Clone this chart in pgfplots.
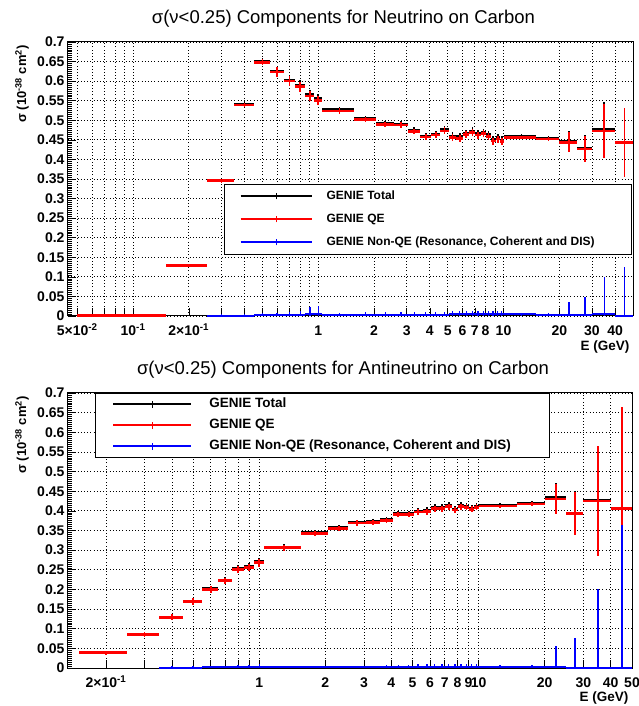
\documentclass[border=0pt]{standalone}
\usepackage{pgfplots}
\pgfplotsset{compat=1.18}
\usepackage{pgfplotstable}
\usepackage{fontspec}
\setmainfont{Liberation Sans}

% neutrino: total
\pgfplotstableread{
x y xm xp ey
0.10 0.001 0.05 0.05 0.001
0.20 0.130 0.05 0.05 0.004
0.30 0.3467 0.05 0.05 0.005
0.40 0.540 0.05 0.05 0.006
0.50 0.650 0.05 0.05 0.008
0.60 0.625 0.05 0.05 0.012
0.70 0.603 0.05 0.05 0.012
0.80 0.590 0.05 0.05 0.013
0.90 0.566 0.05 0.05 0.012
1.00 0.555 0.05 0.05 0.012
1.30 0.527 0.25 0.25 0.008
1.80 0.505 0.25 0.25 0.007
2.30 0.492 0.25 0.25 0.007
2.80 0.491 0.25 0.25 0.008
3.30 0.475 0.25 0.25 0.007
3.80 0.460 0.25 0.25 0.007
4.30 0.465 0.25 0.25 0.008
4.80 0.476 0.25 0.25 0.009
5.30 0.460 0.25 0.25 0.009
5.80 0.458 0.25 0.25 0.009
6.30 0.467 0.25 0.25 0.009
6.80 0.473 0.25 0.25 0.009
7.30 0.466 0.25 0.25 0.009
7.80 0.470 0.25 0.25 0.009
8.30 0.463 0.25 0.25 0.009
8.80 0.451 0.25 0.25 0.009
9.30 0.456 0.25 0.25 0.009
9.775 0.450 0.225 0.225 0.009
12.5 0.460 2.5 2.5 0.005
17.5 0.455 2.5 2.5 0.005
22.5 0.447 2.5 2.5 0.025
27.5 0.429 2.5 2.5 0.034
35 0.478 5 5 0.068
45 0.444 5 5 0.088
}\nuTot
% neutrino: QE
\pgfplotstableread{
x y xm xp ey
0.10 0.001 0.05 0.05 0.001
0.20 0.1295 0.05 0.05 0.004
0.30 0.3457 0.05 0.05 0.005
0.40 0.539 0.05 0.05 0.006
0.50 0.648 0.05 0.05 0.008
0.60 0.623 0.05 0.05 0.012
0.70 0.600 0.05 0.05 0.012
0.80 0.586 0.05 0.05 0.013
0.90 0.562 0.05 0.05 0.012
1.00 0.551 0.05 0.05 0.012
1.30 0.524 0.25 0.25 0.008
1.80 0.502 0.25 0.25 0.007
2.30 0.489 0.25 0.25 0.007
2.80 0.488 0.25 0.25 0.008
3.30 0.472 0.25 0.25 0.007
3.80 0.457 0.25 0.25 0.007
4.30 0.462 0.25 0.25 0.008
4.80 0.473 0.25 0.25 0.009
5.30 0.456 0.25 0.25 0.009
5.80 0.454 0.25 0.25 0.009
6.30 0.463 0.25 0.25 0.009
6.80 0.469 0.25 0.25 0.009
7.30 0.462 0.25 0.25 0.009
7.80 0.466 0.25 0.25 0.009
8.30 0.459 0.25 0.25 0.009
8.80 0.447 0.25 0.25 0.009
9.30 0.452 0.25 0.25 0.009
9.775 0.446 0.225 0.225 0.009
12.5 0.456 2.5 2.5 0.005
17.5 0.452 2.5 2.5 0.005
22.5 0.444 2.5 2.5 0.025
27.5 0.427 2.5 2.5 0.0335
35 0.4727 5 5 0.068
45 0.443 5 5 0.088
}\nuQE
% neutrino: non-QE
\pgfplotstableread{
x y xm xp eyp eym
0.30 0.001 0.05 0.05 0.003 0.001
0.40 0.001 0.05 0.05 0.004 0.001
0.50 0.002 0.05 0.05 0.005 0.002
0.60 0.002 0.05 0.05 0.006 0.002
0.70 0.003 0.05 0.05 0.008 0.003
0.80 0.003 0.05 0.05 0.010 0.003
0.90 0.004 0.05 0.05 0.018 0.004
1.00 0.004 0.05 0.05 0.022 0.004
1.30 0.003 0.25 0.25 0.005 0.003
1.80 0.003 0.25 0.25 0.006 0.003
2.30 0.003 0.25 0.25 0.006 0.003
2.80 0.003 0.25 0.25 0.007 0.003
3.30 0.003 0.25 0.25 0.007 0.003
3.80 0.003 0.25 0.25 0.008 0.003
4.30 0.003 0.25 0.25 0.008 0.003
4.80 0.003 0.25 0.25 0.008 0.003
5.30 0.004 0.25 0.25 0.010 0.004
5.80 0.004 0.25 0.25 0.010 0.004
6.30 0.004 0.25 0.25 0.010 0.004
6.80 0.004 0.25 0.25 0.010 0.004
7.30 0.004 0.25 0.25 0.010 0.004
7.80 0.004 0.25 0.25 0.010 0.004
8.30 0.004 0.25 0.25 0.010 0.004
8.80 0.004 0.25 0.25 0.010 0.004
9.30 0.004 0.25 0.25 0.010 0.004
9.775 0.004 0.225 0.225 0.010 0.004
12.5 0.004 2.5 2.5 0.004 0.004
17.5 0.003 2.5 2.5 0.005 0.003
22.5 0.003 2.5 2.5 0.033 0.003
27.5 0.002 2.5 2.5 0.047 0.002
35 0.006 5 5 0.093 0.006
45 0.001 5 5 0.123 0.001
}\nuNon
% antineutrino: total
\pgfplotstableread{
x y xm xp ey
0.20 0.039 0.05 0.05 0.005
0.30 0.0857 0.05 0.05 0.006
0.40 0.130 0.05 0.05 0.008
0.50 0.170 0.05 0.05 0.008
0.60 0.202 0.05 0.05 0.008
0.70 0.224 0.05 0.05 0.008
0.80 0.253 0.05 0.05 0.009
0.90 0.258 0.05 0.05 0.009
1.00 0.271 0.05 0.05 0.010
1.30 0.308 0.25 0.25 0.007
1.80 0.345 0.25 0.25 0.007
2.30 0.357 0.25 0.25 0.007
2.80 0.371 0.25 0.25 0.007
3.30 0.373 0.25 0.25 0.007
3.80 0.378 0.25 0.25 0.007
4.30 0.393 0.25 0.25 0.007
4.80 0.393 0.25 0.25 0.007
5.30 0.400 0.25 0.25 0.008
5.80 0.401 0.25 0.25 0.008
6.30 0.4085 0.25 0.25 0.008
6.80 0.4085 0.25 0.25 0.008
7.30 0.4136 0.25 0.25 0.008
7.80 0.405 0.25 0.25 0.008
8.30 0.4136 0.25 0.25 0.008
8.80 0.412 0.25 0.25 0.008
9.30 0.407 0.25 0.25 0.008
9.775 0.412 0.225 0.225 0.008
12.5 0.415 2.5 2.5 0.004
17.5 0.420 2.5 2.5 0.005
22.5 0.4335 2.5 2.5 0.038
27.5 0.395 2.5 2.5 0.055
35 0.426 5 5 0.14
45 0.407 5 5 0.258
}\anTot
% antineutrino: QE
\pgfplotstableread{
x y xm xp ey
0.20 0.039 0.05 0.05 0.005
0.30 0.0857 0.05 0.05 0.006
0.40 0.129 0.05 0.05 0.008
0.50 0.169 0.05 0.05 0.008
0.60 0.200 0.05 0.05 0.008
0.70 0.222 0.05 0.05 0.008
0.80 0.251 0.05 0.05 0.009
0.90 0.256 0.05 0.05 0.009
1.00 0.268 0.05 0.05 0.010
1.30 0.306 0.25 0.25 0.007
1.80 0.343 0.25 0.25 0.007
2.30 0.355 0.25 0.25 0.007
2.80 0.369 0.25 0.25 0.007
3.30 0.371 0.25 0.25 0.007
3.80 0.376 0.25 0.25 0.007
4.30 0.391 0.25 0.25 0.007
4.80 0.391 0.25 0.25 0.007
5.30 0.397 0.25 0.25 0.008
5.80 0.398 0.25 0.25 0.008
6.30 0.4055 0.25 0.25 0.008
6.80 0.4055 0.25 0.25 0.008
7.30 0.4106 0.25 0.25 0.008
7.80 0.402 0.25 0.25 0.008
8.30 0.4106 0.25 0.25 0.008
8.80 0.409 0.25 0.25 0.008
9.30 0.404 0.25 0.25 0.008
9.775 0.409 0.225 0.225 0.008
12.5 0.412 2.5 2.5 0.004
17.5 0.417 2.5 2.5 0.005
22.5 0.430 2.5 2.5 0.038
27.5 0.394 2.5 2.5 0.055
35 0.425 5 5 0.14
45 0.406 5 5 0.258
}\anQE
% antineutrino: non-QE
\pgfplotstableread{
x y xm xp eyp eym
0.40 0.001 0.05 0.05 0.003 0.001
0.50 0.001 0.05 0.05 0.003 0.001
0.60 0.002 0.05 0.05 0.004 0.002
0.70 0.002 0.05 0.05 0.004 0.002
0.80 0.002 0.05 0.05 0.005 0.002
0.90 0.002 0.05 0.05 0.005 0.002
1.00 0.003 0.05 0.05 0.006 0.003
1.30 0.002 0.25 0.25 0.003 0.002
1.80 0.002 0.25 0.25 0.004 0.002
2.30 0.002 0.25 0.25 0.004 0.002
2.80 0.002 0.25 0.25 0.004 0.002
3.30 0.002 0.25 0.25 0.004 0.002
3.80 0.002 0.25 0.25 0.005 0.002
4.30 0.002 0.25 0.25 0.005 0.002
4.80 0.002 0.25 0.25 0.005 0.002
5.30 0.003 0.25 0.25 0.006 0.003
5.80 0.003 0.25 0.25 0.006 0.003
6.30 0.003 0.25 0.25 0.006 0.003
6.80 0.003 0.25 0.25 0.006 0.003
7.30 0.003 0.25 0.25 0.006 0.003
7.80 0.003 0.25 0.25 0.006 0.003
8.30 0.003 0.25 0.25 0.006 0.003
8.80 0.003 0.25 0.25 0.006 0.003
9.30 0.003 0.25 0.25 0.006 0.003
9.775 0.003 0.225 0.225 0.006 0.003
12.5 0.003 2.5 2.5 0.004 0.003
17.5 0.003 2.5 2.5 0.004 0.003
22.5 0.003 2.5 2.5 0.053 0.003
27.5 0.001 2.5 2.5 0.075 0.001
35 0.001 5 5 0.199 0.001
45 0.001 5 5 0.363 0.001
}\anNon

\pgfplotsset{
  hbar/.style={draw=none, mark=none, error bars/x dir=both, error bars/x explicit, error bars/error mark=none, error bars/error bar style={draw=#1, line width=2.6pt}},
  vbar/.style={draw=none, mark=none, forget plot, error bars/y dir=both, error bars/y explicit, error bars/error mark=none, error bars/error bar style={draw=#1, line width=1.8pt}},
  hbarthin/.style={draw=none, mark=none, error bars/x dir=both, error bars/x explicit, error bars/error mark=none, error bars/error bar style={draw=#1, line width=2pt}},
  vbarthin/.style={draw=none, mark=none, forget plot, error bars/y dir=both, error bars/y explicit, error bars/error mark=none, error bars/error bar style={draw=#1, line width=1.5pt}},
}

\begin{document}
\begin{tikzpicture}
\useasboundingbox (0,0) rectangle (639pt,706pt);

% ---------------- top: neutrino ----------------
\begin{axis}[
  scale only axis, xmode=log, ymin=0, ymax=0.7,
  ytick={0,0.05,0.1,0.15,0.2,0.25,0.3,0.35,0.4,0.45,0.5,0.55,0.6,0.65,0.7},
  minor y tick num=9, minor xtick={},
  tick align=inside, tick pos=left,
  major tick length=8pt, minor tick length=4pt,
  tick style={black, line width=0.6pt},
  grid=major,
  major grid style={black, line width=0.8pt, dash pattern=on 0.8pt off 2.4pt},
  axis line style={line width=1pt},
  clip=false,
  /pgf/number format/assume math mode=true,
  ticklabel style={font=\bfseries\fontsize{14}{16}\selectfont},
  yticklabel style={/pgf/number format/fixed, /pgf/number format/precision=2},
  xticklabel style={anchor=base, yshift=-19.5pt},
  ylabel={σ (10\textsuperscript{-38} cm\textsuperscript{2})},
  ylabel style={font=\bfseries\fontsize{13}{15}\selectfont, at={(axis description cs:-0.0743,1)}, anchor=base east},
  xlabel={E (GeV)},
  legend cell align=left,
  at={(68pt,390pt)}, anchor=south west, width=565pt, height=274pt,
  xmin=0.04454, xmax=50,
  xtick={0.05,0.06,0.07,0.08,0.09,0.1,0.2,0.3,0.4,0.5,0.6,0.7,0.8,0.9,1,2,3,4,5,6,7,8,9,10,20,30,40},
  xticklabels={5×10\textsuperscript{-2},,,,,10\textsuperscript{-1},2×10\textsuperscript{-1},,,,,,,,1,2,3,4,5,6,7,8,,10,20,30,40},
  title={σ(ν<0.25) Components for Neutrino on Carbon},
  title style={font=\fontsize{18.5}{21}\selectfont, anchor=center, at={(axis description cs:0.4876,1.0646)}},
  xlabel style={font=\bfseries\fontsize{13.5}{15}\selectfont, at={(axis description cs:1,-0.1277)}, anchor=base east},
  legend style={at={(axis description cs:0.9982,0.4818)}, anchor=north east, draw=black, line width=0.8pt, fill=white,
    inner xsep=15pt, inner ysep=6pt, row sep=11pt, nodes={inner sep=0pt, text height=9pt, text depth=3pt},
    font=\bfseries\fontsize{12}{14}\selectfont},
]
\addplot[legend image code/.code={\draw[black,line width=2pt] (0pt,0pt) -- (71pt,0pt); \draw[black,line width=0.8pt] (35.5pt,-3pt) -- (35.5pt,3pt); \path (86pt,0pt);}, hbar=black]
  table[x=x, y=y, x error minus=xm, x error plus=xp] {\nuTot};
\addlegendentry{\makebox[290pt][l]{GENIE Total}}
\addplot[vbar=black] table[x=x, y=y, y error=ey] {\nuTot};
\addplot[legend image code/.code={\draw[red,line width=2pt] (0pt,0pt) -- (71pt,0pt); \draw[red,line width=0.8pt] (35.5pt,-3pt) -- (35.5pt,3pt); \path (86pt,0pt);}, hbar=red]
  table[x=x, y=y, x error minus=xm, x error plus=xp] {\nuQE};
\addlegendentry{\makebox[290pt][l]{GENIE QE}}
\addplot[vbar=red] table[x=x, y=y, y error=ey] {\nuQE};
\addplot[legend image code/.code={\draw[blue,line width=2pt] (0pt,0pt) -- (71pt,0pt); \draw[blue,line width=0.8pt] (35.5pt,-3pt) -- (35.5pt,3pt); \path (86pt,0pt);}, hbarthin=blue]
  table[x=x, y=y, x error minus=xm, x error plus=xp] {\nuNon};
\addlegendentry{\makebox[290pt][l]{GENIE Non-QE (Resonance, Coherent and DIS)}}
\addplot[vbarthin=blue] table[x=x, y=y, y error plus=eyp, y error minus=eym] {\nuNon};
\end{axis}

% ---------------- bottom: antineutrino ----------------
\begin{axis}[
  scale only axis, xmode=log, ymin=0, ymax=0.7,
  ytick={0,0.05,0.1,0.15,0.2,0.25,0.3,0.35,0.4,0.45,0.5,0.55,0.6,0.65,0.7},
  minor y tick num=9, minor xtick={},
  tick align=inside, tick pos=left,
  major tick length=8pt, minor tick length=4pt,
  tick style={black, line width=0.6pt},
  grid=major,
  major grid style={black, line width=0.8pt, dash pattern=on 0.8pt off 2.4pt},
  axis line style={line width=1pt},
  clip=false,
  /pgf/number format/assume math mode=true,
  ticklabel style={font=\bfseries\fontsize{14}{16}\selectfont},
  yticklabel style={/pgf/number format/fixed, /pgf/number format/precision=2},
  xticklabel style={anchor=base, yshift=-19.5pt},
  ylabel={σ (10\textsuperscript{-38} cm\textsuperscript{2})},
  ylabel style={font=\bfseries\fontsize{13}{15}\selectfont, at={(axis description cs:-0.0743,1)}, anchor=base east},
  xlabel={E (GeV)},
  legend cell align=left,
  at={(68pt,38pt)}, anchor=south west, width=564pt, height=275pt,
  xmin=0.1343, xmax=50,
  xtick={0.2,0.3,0.4,0.5,0.6,0.7,0.8,0.9,1,2,3,4,5,6,7,8,9,10,20,30,40,50},
  xticklabels={2×10\textsuperscript{-1},,,,,,,,1,2,3,4,5,6,7,8,9,10,20,30,40,50},
  title={σ(ν<0.25) Components for Antineutrino on Carbon},
  title style={font=\fontsize{18.5}{21}\selectfont, anchor=center, at={(axis description cs:0.4876,1.0618)}},
  xlabel style={font=\bfseries\fontsize{13.5}{15}\selectfont, at={(axis description cs:1,-0.1218)}, anchor=base east},
  legend style={at={(axis description cs:0.0479,1)}, anchor=north west, draw=black, line width=0.8pt, fill=white,
    inner xsep=17pt, inner ysep=4.25pt, row sep=7.5pt, nodes={inner sep=0pt, text height=10pt, text depth=3.5pt},
    font=\bfseries\fontsize{13.5}{15}\selectfont},
]
\addplot[legend image code/.code={\draw[black,line width=2pt] (0pt,0pt) -- (78pt,0pt); \draw[black,line width=0.8pt] (39pt,-3.5pt) -- (39pt,3.5pt); \path (96pt,0pt);}, hbar=black]
  table[x=x, y=y, x error minus=xm, x error plus=xp] {\anTot};
\addlegendentry{\makebox[323pt][l]{GENIE Total}}
\addplot[vbar=black] table[x=x, y=y, y error=ey] {\anTot};
\addplot[legend image code/.code={\draw[red,line width=2pt] (0pt,0pt) -- (78pt,0pt); \draw[red,line width=0.8pt] (39pt,-3.5pt) -- (39pt,3.5pt); \path (96pt,0pt);}, hbar=red]
  table[x=x, y=y, x error minus=xm, x error plus=xp] {\anQE};
\addlegendentry{\makebox[323pt][l]{GENIE QE}}
\addplot[vbar=red] table[x=x, y=y, y error=ey] {\anQE};
\addplot[legend image code/.code={\draw[blue,line width=2pt] (0pt,0pt) -- (78pt,0pt); \draw[blue,line width=0.8pt] (39pt,-3.5pt) -- (39pt,3.5pt); \path (96pt,0pt);}, hbarthin=blue]
  table[x=x, y=y, x error minus=xm, x error plus=xp] {\anNon};
\addlegendentry{\makebox[323pt][l]{GENIE Non-QE (Resonance, Coherent and DIS)}}
\addplot[vbarthin=blue] table[x=x, y=y, y error plus=eyp, y error minus=eym] {\anNon};
\end{axis}
\end{tikzpicture}
\end{document}
